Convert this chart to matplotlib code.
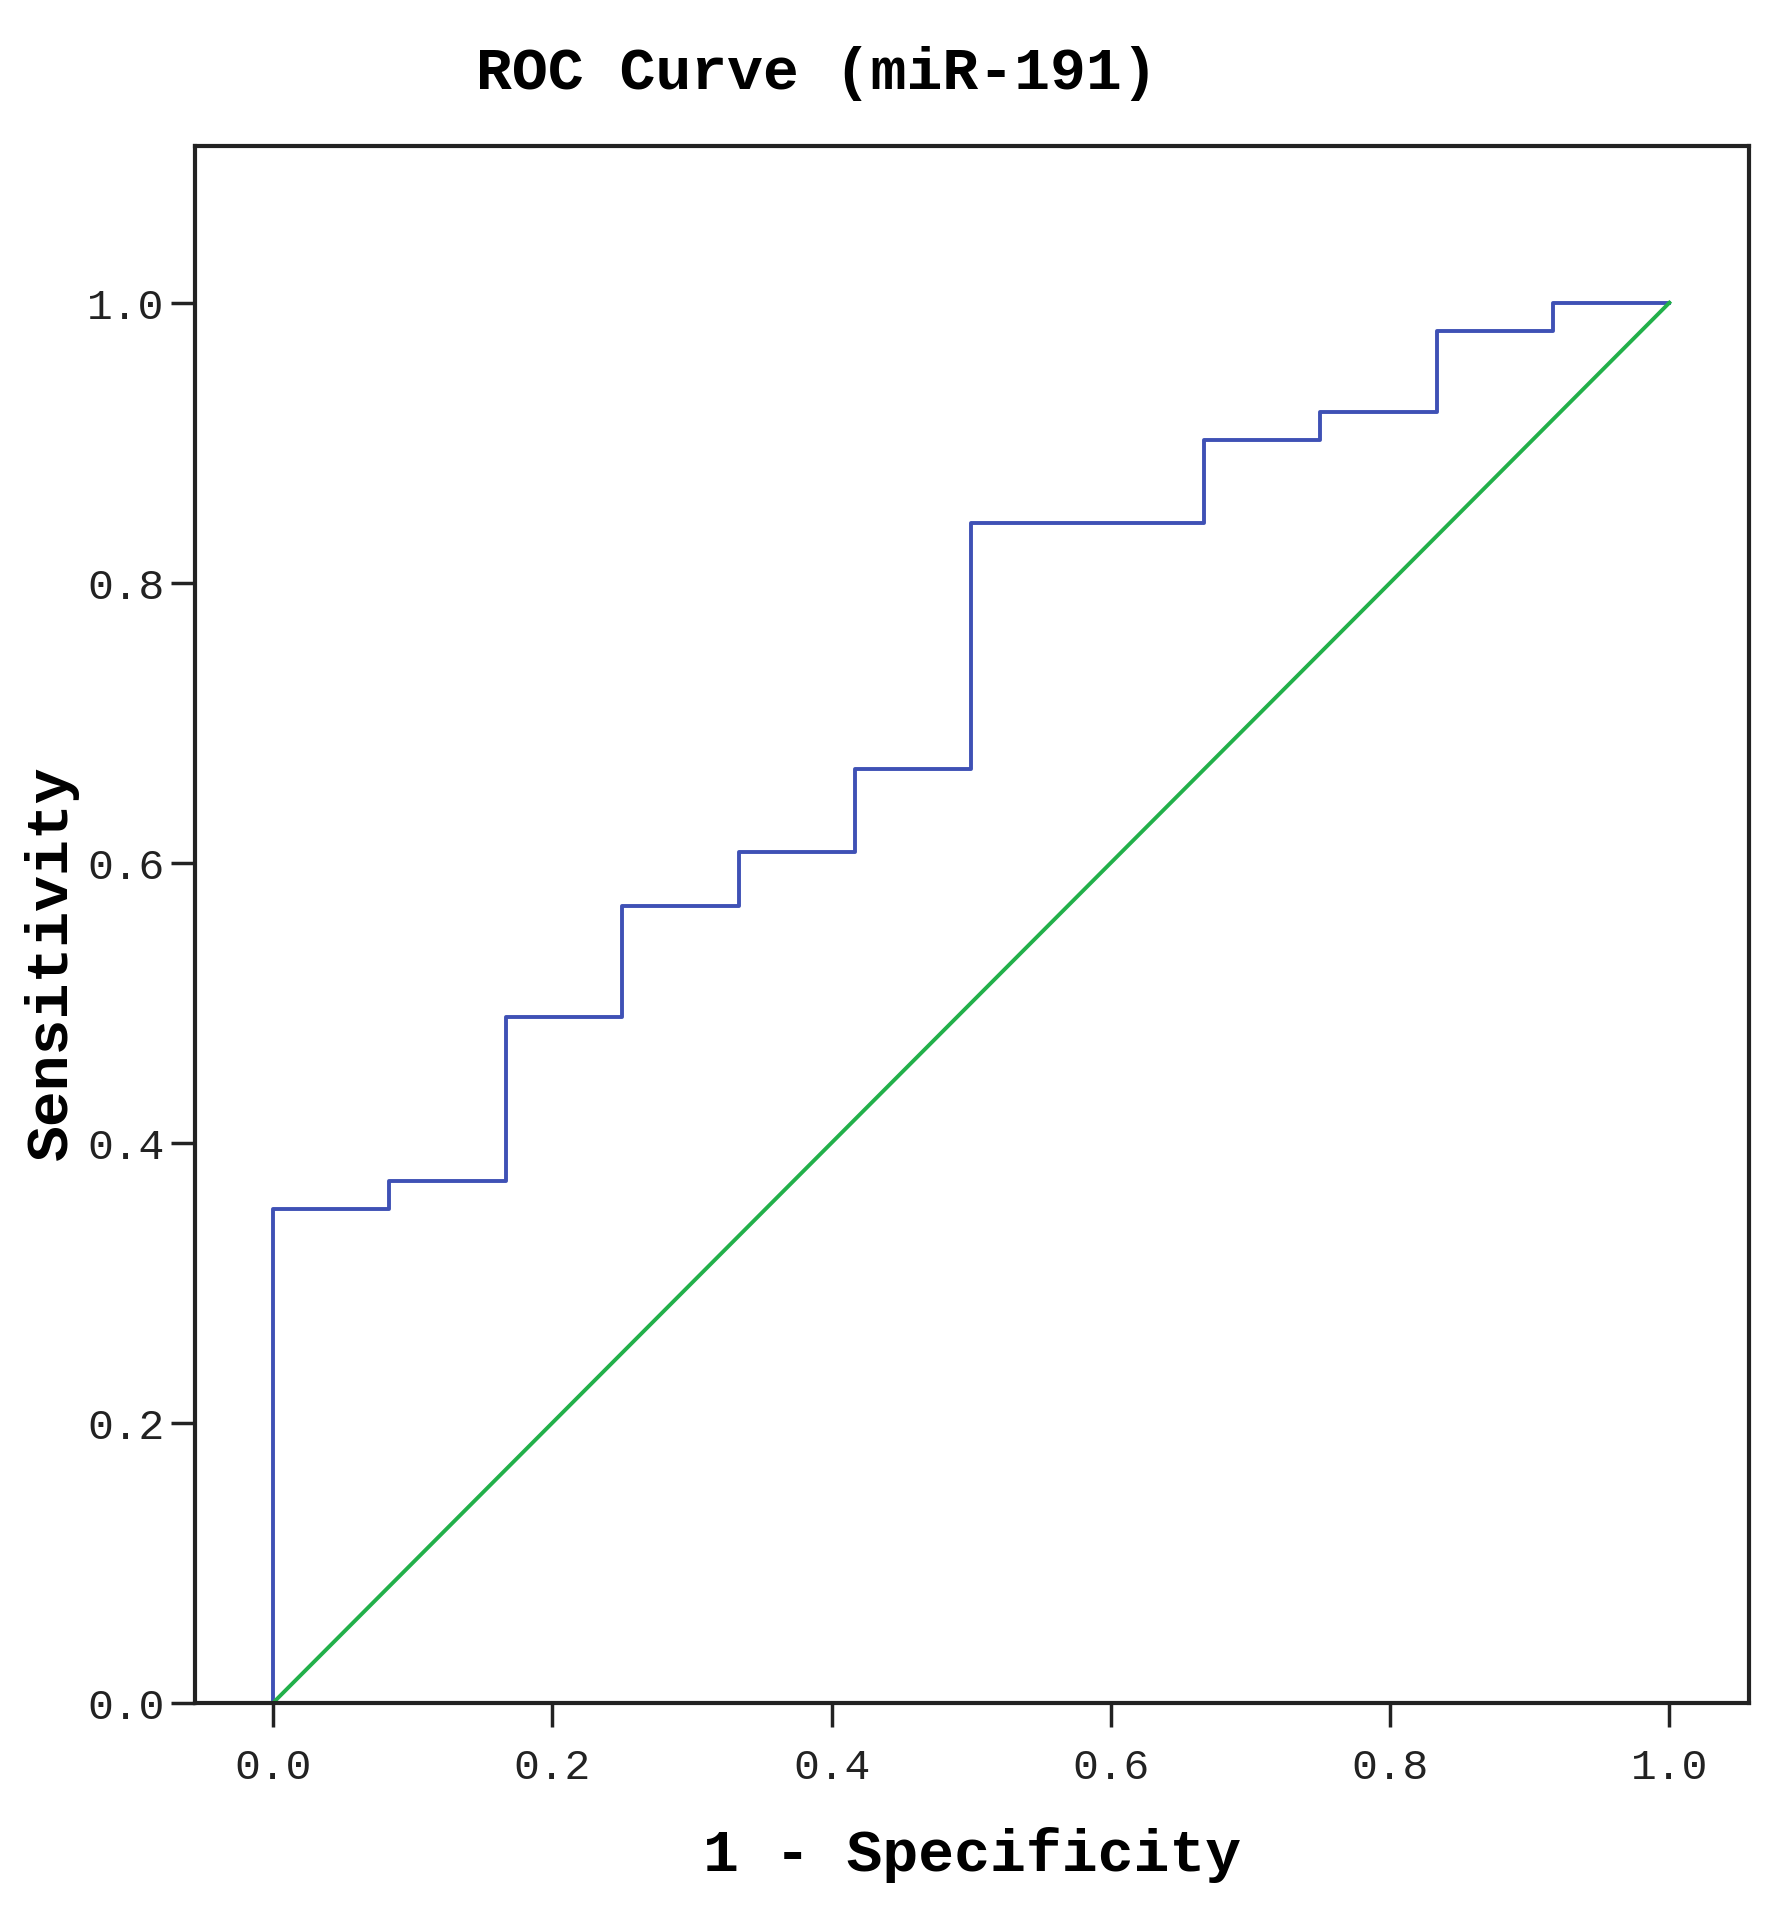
import matplotlib
matplotlib.use('Agg')
import matplotlib.pyplot as plt

# ROC curve corners (1 - specificity, sensitivity)
fpr = [0, 0, 1/12, 2/12, 3/12, 4/12, 5/12, 6/12, 8/12, 9/12, 10/12, 11/12, 1.0]
tpr = [0, 0.353, 0.373, 0.490, 0.569, 0.608, 0.667, 0.843, 0.902, 0.922, 0.980, 1.0, 1.0]

# reference line
ref_x = [0, 1]
ref_y = [0, 1]

ticks = [0.0, 0.2, 0.4, 0.6, 0.8, 1.0]
tick_labels = ['0.0', '0.2', '0.4', '0.6', '0.8', '1.0']

plt.rcParams['font.family'] = ['Liberation Mono', 'DejaVu Sans Mono']

fig = plt.figure(figsize=(17.72, 19.08), dpi=100)
ax = fig.add_axes([0.110, 0.107, 0.877, 0.816])

ax.plot(fpr, tpr, drawstyle='steps-post', color='#3F51B5', linewidth=2.8)
ax.plot(ref_x, ref_y, color='#22B04A', linewidth=2.8)

ax.set_xlim(-0.056, 1.057)
ax.set_ylim(0, 1.112)
ax.set_xticks(ticks)
ax.set_xticklabels(tick_labels)
ax.set_yticks(ticks)
ax.set_yticklabels(tick_labels)

for s in ax.spines.values():
    s.set_linewidth(3)
    s.set_color('#222222')

ax.tick_params(axis='both', direction='out', length=17, width=2.5,
               labelsize=31, color='#222222', labelcolor='#222222')
ax.tick_params(axis='x', pad=15)
ax.tick_params(axis='y', pad=5)

ax.set_title('ROC Curve (miR-191)', fontsize=43, fontweight='bold', pad=42)
ax.set_xlabel('1 - Specificity', fontsize=43, fontweight='bold', labelpad=28)
ax.set_ylabel('Sensitivity', fontsize=43, fontweight='bold', labelpad=6)
ax.title.set_position((0.40, 1.0))
ax.yaxis.label.set_y(0.476)

fig.savefig('out.png', dpi=100)
